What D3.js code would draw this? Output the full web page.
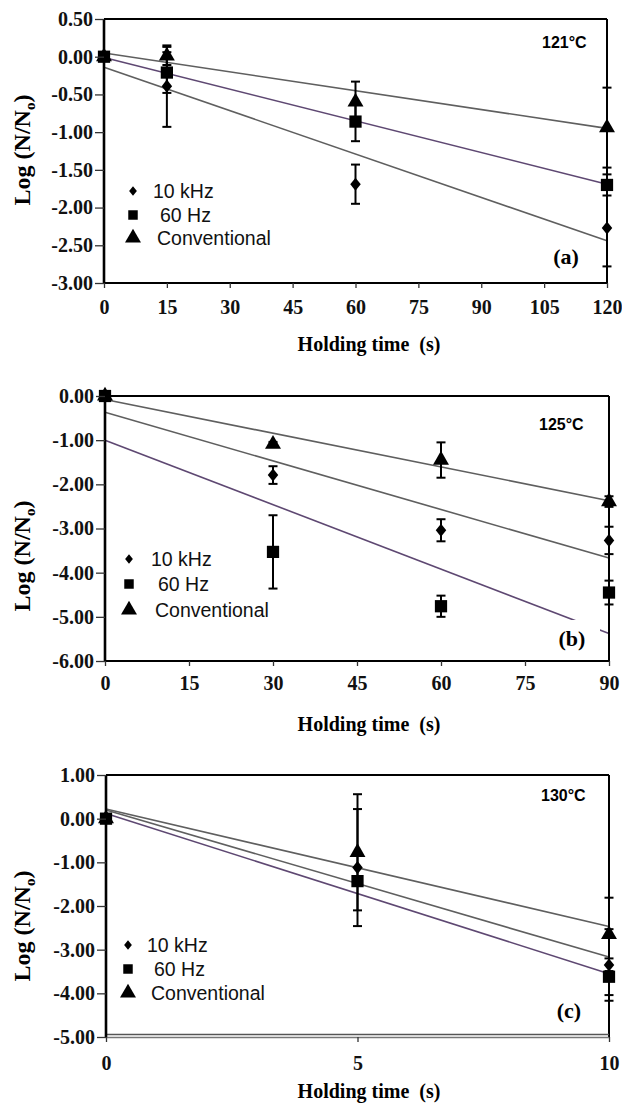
<!DOCTYPE html>
<html><head><meta charset="utf-8">
<script src="https://cdn.jsdelivr.net/npm/d3@7"></script>
<style>body{margin:0;background:#fff}svg{display:block}</style>
</head><body>
<svg id="chart" width="622" height="1110"></svg>
<script>
// ---------- DATA ----------
const seriesNames = ["10 kHz", "60 Hz", "Conventional"];

// Panel (a) 121°C
const timesA = [0, 15, 60, 120];
const khzA = [0, -0.39, -1.69, -2.27];
const khzErrA = [0, 0.54, 0.26, 0.51];
const hzA = [0, -0.21, -0.86, -1.70];
const hzErrA = [0, 0.27, 0.26, 0.14];
const convA = [0, 0.01, -0.60, -0.94];
const convErrA = [0, 0.12, 0.27, 0.53];
const fitA = { khz: [-0.14, -2.44], hz: [-0.01, -1.69], conv: [0.05, -0.95] };
const xTicksA = [0, 15, 30, 45, 60, 75, 90, 105, 120];
const xLabelsA = ["0", "15", "30", "45", "60", "75", "90", "105", "120"];
const yTicksA = [0.5, 0, -0.5, -1, -1.5, -2, -2.5, -3];
const yLabelsA = ["0.50", "0.00", "-0.50", "-1.00", "-1.50", "-2.00", "-2.50", "-3.00"];

// Panel (b) 125°C
const timesB = [0, 30, 60, 90];
const khzB = [0, -1.79, -3.04, -3.27];
const khzErrB = [0, 0.20, 0.25, 0.31];
const hzB = [0, -3.53, -4.76, -4.45];
const hzErrB = [0, 0.83, 0.24, 0.27];
const convB = [0, -1.09, -1.45, -2.39];
const convErrB = [0, 0.05, 0.40, 0.12];
const fitB = { khz: [-0.37, -3.67], hz: [-1.00, -5.38], conv: [-0.08, -2.37] };
const xTicksB = [0, 15, 30, 45, 60, 75, 90];
const xLabelsB = ["0", "15", "30", "45", "60", "75", "90"];
const yTicksB = [0, -1, -2, -3, -4, -5, -6];
const yLabelsB = ["0.00", "-1.00", "-2.00", "-3.00", "-4.00", "-5.00", "-6.00"];

// Panel (c) 130°C
const timesC = [0, 5, 10];
const khzC = [0, -1.12, -3.35];
const khzErrC = [0, 1.34, 0.82];
const hzC = [0, -1.43, -3.62];
const hzErrC = [0, 0.05, 0.42];
const convC = [0, -0.77, -2.65];
const convErrC = [0, 1.33, 0.84];
const fitC = { khz: [0.20, -3.17], hz: [0.12, -3.55], conv: [0.22, -2.47] };
const xTicksC = [0, 5, 10];
const xLabelsC = ["0", "5", "10"];
const yTicksC = [1, 0, -1, -2, -3, -4, -5];
const yLabelsC = ["1.00", "0.00", "-1.00", "-2.00", "-3.00", "-4.00", "-5.00"];

// ---------- DRAW ----------
const svg = d3.select("#chart");
const SERIF = "'Liberation Serif','Times New Roman',serif";
const SANS = "'Liberation Sans',Arial,sans-serif";
const GRAY = "#5f5f5f", PURPLE = "#5e4872";

const diamondType = {
  draw(ctx, size) {
    const r = Math.sqrt(size) / 2;
    ctx.moveTo(0, -r * 1.25); ctx.lineTo(r, 0); ctx.lineTo(0, r * 1.25); ctx.lineTo(-r, 0); ctx.closePath();
  }
};

function drawPanel(p) {
  const g = svg.append("g");
  const x = d3.scaleLinear().domain(p.xDomain).range([p.left, p.right]);
  const y = d3.scaleLinear().domain(p.yDomain).range([p.top, p.bottom]);

  // fit lines
  const fits = [
    { v: p.fit.conv, c: GRAY },
    { v: p.fit.khz, c: GRAY },
    { v: p.fit.hz, c: PURPLE }
  ];
  fits.forEach(f => {
    g.append("line")
      .attr("x1", x(p.xDomain[0])).attr("y1", y(f.v[0]))
      .attr("x2", x(p.xDomain[1])).attr("y2", y(f.v[1]))
      .attr("stroke", f.c).attr("stroke-width", 1.6);
  });

  if (p.labelBox) {
    g.append("rect").attr("x", p.labelBox[0]).attr("y", p.labelBox[1])
      .attr("width", p.labelBox[2]).attr("height", p.labelBox[3]).attr("fill", "#fff");
  }

  // series
  const series = [
    { vals: p.conv, errs: p.convErr, type: d3.symbolTriangle, size: 110 },
    { vals: p.khz, errs: p.khzErr, type: diamondType, size: 110 },
    { vals: p.hz, errs: p.hzErr, type: d3.symbolSquare, size: 150 }
  ];
  series.forEach(s => {
    p.times.forEach((t, i) => {
      const e = s.errs[i];
      if (e > 0) {
        const cx = x(t), y1 = y(s.vals[i] + e), y2 = y(s.vals[i] - e);
        g.append("line").attr("x1", cx).attr("x2", cx).attr("y1", y1).attr("y2", y2)
          .attr("stroke", "#000").attr("stroke-width", 2);
        [y1, y2].forEach(yy => g.append("line").attr("x1", cx - 4.5).attr("x2", cx + 4.5)
          .attr("y1", yy).attr("y2", yy).attr("stroke", "#000").attr("stroke-width", 2));
      }
    });
  });
  series.forEach(s => {
    g.selectAll(null).data(p.times).enter().append("path")
      .attr("d", d3.symbol().type(s.type).size(s.size))
      .attr("transform", (t, i) => `translate(${x(t)},${y(s.vals[i])})`)
      .attr("fill", "#000");
  });

  // frame
  g.append("line").attr("x1", p.left).attr("x2", p.right).attr("y1", p.top).attr("y2", p.top)
    .attr("stroke", "#000").attr("stroke-width", 2);
  g.append("line").attr("x1", p.right).attr("x2", p.right).attr("y1", p.top).attr("y2", p.bottom)
    .attr("stroke", "#000").attr("stroke-width", 2);
  if (p.doubleBottom) {
    g.append("line").attr("x1", p.left).attr("x2", p.right).attr("y1", p.bottom - 2.5).attr("y2", p.bottom - 2.5)
      .attr("stroke", "#555").attr("stroke-width", 1.5);
    g.append("line").attr("x1", p.left).attr("x2", p.right).attr("y1", p.bottom + 0.5).attr("y2", p.bottom + 0.5)
      .attr("stroke", "#777").attr("stroke-width", 1.5);
  } else {
    g.append("line").attr("x1", p.left).attr("x2", p.right).attr("y1", p.bottom).attr("y2", p.bottom)
      .attr("stroke", "#000").attr("stroke-width", 2);
  }
  g.append("line").attr("x1", p.left).attr("x2", p.left).attr("y1", p.top).attr("y2", p.bottom)
    .attr("stroke", "#000").attr("stroke-width", 2.6);

  // axes
  const yAxis = g.append("g").attr("transform", `translate(${p.left},0)`)
    .call(d3.axisLeft(y).tickValues(p.yTicks).tickFormat((d, i) => p.yLabels[i]).tickSize(9).tickPadding(2));
  const xAxis = g.append("g").attr("transform", `translate(0,${p.bottom})`)
    .call(d3.axisBottom(x).tickValues(p.xTicks).tickFormat((d, i) => p.xLabels[i]).tickSize(5).tickPadding(p.xPad));
  [yAxis, xAxis].forEach(a => {
    a.select(".domain").remove();
    a.selectAll(".tick line").attr("stroke", "#333").attr("stroke-width", 1.3);
    a.selectAll("text").attr("font-family", SERIF).attr("font-weight", "bold")
      .attr("font-size", 20).attr("fill", "#111");
  });

  // titles
  svg.append("text").attr("x", 369).attr("y", p.xTitleY + 6).attr("text-anchor", "middle")
    .attr("font-family", SERIF).attr("font-weight", "bold").attr("font-size", 20)
    .style("white-space", "pre").text("Holding time  (s)");
  const yt = svg.append("text").attr("transform", `translate(30,${p.yTitleY}) rotate(-90)`)
    .attr("text-anchor", "middle").attr("font-family", SERIF).attr("font-weight", "bold").attr("font-size", 24);
  yt.append("tspan").text("Log (N/N");
  yt.append("tspan").attr("font-size", 15).attr("dy", 5).text("o");
  yt.append("tspan").attr("dy", -5).text(")");

  // temperature + panel label
  g.append("text").attr("x", p.tempPos[0]).attr("y", p.tempPos[1])
    .attr("font-family", SANS).attr("font-weight", "bold").attr("font-size", 16).text(p.temp);
  g.append("text").attr("x", p.panelPos[0]).attr("y", p.panelPos[1]).attr("text-anchor", "middle")
    .attr("font-family", SERIF).attr("font-weight", "bold").attr("font-size", 22).text(p.panel);

  // legend
  const legTypes = [
    { type: diamondType, size: 60 },
    { type: d3.symbolSquare, size: 90 },
    { type: d3.symbolTriangle, size: 110 }
  ];
  const textOff = [0, 7, 4];
  seriesNames.forEach((name, i) => {
    const ly = p.legend.y[i];
    g.append("path").attr("d", d3.symbol().type(legTypes[i].type).size(legTypes[i].size))
      .attr("transform", `translate(${p.legend.sx},${ly})`).attr("fill", "#000");
    g.append("text").attr("x", p.legend.tx + textOff[i]).attr("y", ly + 7)
      .attr("font-family", SANS).attr("font-size", 19.5).attr("fill", "#111").text(name);
  });
}

drawPanel({
  xDomain: [0, 120], yDomain: [0.5, -3], left: 104, right: 607, top: 19, bottom: 283,
  times: timesA, khz: khzA, khzErr: khzErrA, hz: hzA, hzErr: hzErrA, conv: convA, convErr: convErrA, fit: fitA,
  xTicks: xTicksA, xLabels: xLabelsA, yTicks: yTicksA, yLabels: yLabelsA, xPad: 12,
  xTitleY: 345, yTitleY: 150, temp: "121°C", tempPos: [542, 48], panel: "(a)", panelPos: [566, 264],
  legend: { sx: 133, tx: 153, y: [191, 215, 238] }
});
drawPanel({
  xDomain: [0, 90], yDomain: [0, -6], left: 105, right: 609, top: 396, bottom: 661,
  times: timesB, khz: khzB, khzErr: khzErrB, hz: hzB, hzErr: hzErrB, conv: convB, convErr: convErrB, fit: fitB,
  xTicks: xTicksB, xLabels: xLabelsB, yTicks: yTicksB, yLabels: yLabelsB, xPad: 10,
  xTitleY: 725, yTitleY: 556, temp: "125°C", tempPos: [539, 430], panel: "(b)", panelPos: [572, 646],
  labelBox: [556, 620, 44, 36],
  legend: { sx: 129, tx: 151, y: [559, 584, 610] }
});
drawPanel({
  xDomain: [0, 10], yDomain: [1, -5], left: 106, right: 609, top: 775, bottom: 1037,
  times: timesC, khz: khzC, khzErr: khzErrC, hz: hzC, hzErr: hzErrC, conv: convC, convErr: convErrC, fit: fitC,
  xTicks: xTicksC, xLabels: xLabelsC, yTicks: yTicksC, yLabels: yLabelsC, xPad: 14,
  xTitleY: 1092, yTitleY: 926, temp: "130°C", tempPos: [541, 801], panel: "(c)", panelPos: [569, 1018],
  doubleBottom: true,
  legend: { sx: 128, tx: 147, y: [945, 969, 993] }
});
</script>
</body></html>
